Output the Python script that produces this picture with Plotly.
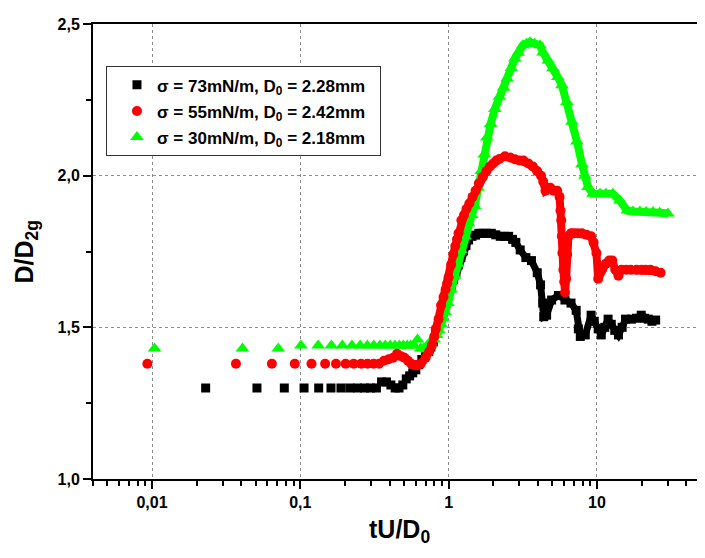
import plotly.graph_objects as go

# ---------------- data ----------------
# sigma = 73 mN/m (black squares)
black_early_x = [0.023, 0.051, 0.078, 0.106, 0.133, 0.161, 0.188, 0.216, 0.243, 0.271, 0.298, 0.326,
                 0.353, 0.381, 0.408, 0.436, 0.463, 0.491, 0.518, 0.546, 0.573]
black_early_y = [1.30, 1.30, 1.30, 1.30, 1.30, 1.30, 1.30, 1.30, 1.30, 1.30, 1.30, 1.30,
                 1.32, 1.32, 1.31, 1.30, 1.30, 1.31, 1.33, 1.34, 1.35]
black_x = [0.601, 0.63, 0.66, 0.70, 0.733, 0.76, 0.79, 0.82, 0.857, 0.89, 0.923, 0.96, 1.0, 1.04, 1.08,
           1.12, 1.167, 1.21, 1.26, 1.31, 1.364, 1.44, 1.52, 1.6, 1.7, 1.8, 1.94, 2.08, 2.23, 2.38, 2.54,
           2.7, 2.84, 3.04, 3.32, 3.62, 3.96, 4.17, 4.31, 4.38, 4.58, 4.95, 5.5, 6.09, 6.69, 7.25, 7.5,
           7.73, 8.35, 9.14, 9.6, 10.2, 10.7, 11.3, 11.9, 12.5, 13.2, 13.97, 14.8, 15.6, 17.1, 18.5,
           19.9, 21.0, 22.2, 23.5, 24.9]
black_y = [1.36, 1.377, 1.394, 1.41, 1.42, 1.435, 1.452, 1.48, 1.508, 1.53, 1.55, 1.578, 1.605, 1.63, 1.657,
           1.68, 1.706, 1.73, 1.752, 1.77, 1.788, 1.80, 1.804, 1.81, 1.81, 1.81, 1.81, 1.805, 1.80, 1.80, 1.80,
           1.79, 1.78, 1.755, 1.73, 1.72, 1.68, 1.64, 1.58, 1.535, 1.54, 1.59, 1.605, 1.59, 1.58, 1.556, 1.495,
           1.47, 1.475, 1.54, 1.52, 1.495, 1.475, 1.50, 1.527, 1.51, 1.49, 1.475, 1.50, 1.527, 1.527, 1.53,
           1.54, 1.53, 1.527, 1.52, 1.524]

# sigma = 55 mN/m (red circles)
red_early_x = [0.0093, 0.0368, 0.0643, 0.0918, 0.119, 0.147, 0.174, 0.202, 0.229, 0.257, 0.284, 0.312,
               0.339, 0.367, 0.394, 0.422, 0.449, 0.477, 0.504, 0.532, 0.559, 0.587]
red_early_y = [1.38, 1.38, 1.38, 1.38, 1.38, 1.38, 1.38, 1.38, 1.38, 1.38, 1.38, 1.38,
               1.38, 1.39, 1.395, 1.40, 1.413, 1.405, 1.40, 1.39, 1.38, 1.375]
red_x = [0.614, 0.65, 0.70, 0.74, 0.77, 0.80, 0.82, 0.857, 0.89, 0.925, 0.955, 0.98, 1.0, 1.04, 1.075,
         1.11, 1.14, 1.167, 1.22, 1.27, 1.32, 1.38, 1.45, 1.52, 1.6, 1.7, 1.8, 1.9, 2.0, 2.1, 2.2, 2.4,
         2.6, 2.8, 3.0, 3.2, 3.45, 3.7, 3.95, 4.2, 4.35, 4.5, 4.85, 5.1, 5.4, 5.6, 5.68, 5.75, 5.8, 5.85,
         5.94, 6.02, 6.1, 6.2, 6.3, 6.43, 6.69, 7.0, 7.4, 7.92, 8.5, 9.14, 9.5, 9.93, 10.2, 10.8, 11.5,
         12.1, 12.7, 13.3, 13.97, 14.7, 15.8, 16.9, 18.5, 20.0, 21.3, 23.0, 24.9, 26.9]
red_y = [1.375, 1.38, 1.40, 1.42, 1.44, 1.47, 1.495, 1.527, 1.573, 1.60, 1.625, 1.645, 1.664, 1.706, 1.74,
         1.768, 1.79, 1.81, 1.853, 1.87, 1.89, 1.908, 1.93, 1.95, 1.975, 1.996, 2.015, 2.03, 2.04, 2.05,
         2.055, 2.064, 2.06, 2.054, 2.05, 2.05, 2.04, 2.03, 2.015, 2.0, 1.98, 1.95, 1.96, 1.95, 1.95,
         1.93, 1.885, 1.853, 1.80, 1.745, 1.69, 1.65, 1.615, 1.66, 1.74, 1.80, 1.81, 1.81, 1.81, 1.81,
         1.805, 1.80, 1.78, 1.745, 1.66, 1.69, 1.71, 1.72, 1.72, 1.69, 1.67, 1.69, 1.69, 1.69, 1.69,
         1.69, 1.69, 1.69, 1.685, 1.68]

# sigma = 30 mN/m (green triangles)
green_early_x = [0.0104, 0.0407, 0.071, 0.101, 0.132, 0.162, 0.192, 0.223, 0.253, 0.283, 0.313,
                 0.344, 0.374, 0.404, 0.435, 0.465, 0.495, 0.526, 0.556, 0.586, 0.617]
green_early_y = [1.43, 1.43, 1.43, 1.44, 1.44, 1.44, 1.44, 1.44, 1.44, 1.44, 1.44,
                 1.44, 1.44, 1.44, 1.44, 1.44, 1.44, 1.44, 1.44, 1.44, 1.46]
green_x = [0.647, 0.68, 0.72, 0.76, 0.80, 0.83, 0.86, 0.89, 0.92, 0.95, 0.99, 1.04, 1.1, 1.15, 1.21,
           1.29, 1.36, 1.43, 1.5, 1.58, 1.66, 1.74, 1.81, 1.92, 2.05, 2.2, 2.35, 2.48, 2.65, 2.8, 2.95,
           3.17, 3.35, 3.54, 3.8, 4.13, 4.33, 4.7, 5.05, 5.45, 5.81, 6.28, 6.79, 7.34, 7.93, 8.3, 8.7,
           9.41, 10.5, 11.5, 12.8, 14.3, 16.0, 17.5, 19.5, 21.5, 23.9, 26.5, 30.1]
green_y = [1.43, 1.43, 1.44, 1.45, 1.46, 1.475, 1.49, 1.51, 1.53, 1.55, 1.58, 1.625, 1.67, 1.71, 1.755,
           1.80, 1.843, 1.87, 1.90, 1.96, 2.015, 2.07, 2.126, 2.17, 2.22, 2.26, 2.29, 2.32, 2.355, 2.386,
           2.405, 2.43, 2.435, 2.44, 2.435, 2.43, 2.406, 2.38, 2.354, 2.325, 2.298, 2.243, 2.178, 2.113,
           2.038, 2.0, 1.963, 1.94, 1.94, 1.94, 1.94, 1.918, 1.885, 1.882, 1.882, 1.88, 1.88, 1.878, 1.875]

labels = ["σ = 73mN/m, D<sub>0</sub> = 2.28mm\u00a0\u00a0",
          "σ = 55mN/m, D<sub>0</sub> = 2.42mm\u00a0\u00a0",
          "σ = 30mN/m, D<sub>0</sub> = 2.18mm\u00a0\u00a0"]

x_tickvals = [0.01, 0.1, 1, 10]
x_ticktext = ["0,01", "0,1", "1", "10"]
y_tickvals = [1.0, 1.5, 2.0, 2.5]
y_ticktext = ["1,0", "1,5", "2,0", "2,5"]

# ---------------- figure ----------------
fig = go.Figure()

series = [
    ("b", black_early_x, black_early_y, black_x, black_y, "#000000", "square", 9, 7, labels[0], 1),
    ("g", green_early_x, green_early_y, green_x, green_y, "#00FF00", "triangle-up", 12, 8, labels[2], 3),
    ("r", red_early_x, red_early_y, red_x, red_y, "#FF0000", "circle", 10, 8, labels[1], 2),
]
for grp, ex, ey, dx, dy, col, sym, msize, lw, name, rank in series:
    fig.add_trace(go.Scatter(x=ex, y=ey, mode="markers", name=name, legendgroup=grp,
                             legendrank=rank,
                             marker=dict(color=col, symbol=sym, size=msize, line=dict(width=0))))
    fig.add_trace(go.Scatter(x=dx, y=dy, mode="lines+markers", name=name, legendgroup=grp,
                             showlegend=False, legendrank=rank,
                             line=dict(color=col, width=lw),
                             marker=dict(color=col, symbol=sym, size=msize, line=dict(width=0))))

font_family = "Arial, 'Liberation Sans', sans-serif"

fig.update_xaxes(type="log", range=[-2.398, 1.729],
                 tickvals=x_tickvals, ticktext=x_ticktext,
                 ticks="outside", ticklen=8, tickwidth=2, tickcolor="black",
                 showline=True, linewidth=2, linecolor="black", mirror=True,
                 showgrid=True, gridcolor="#8c8c8c", gridwidth=1, griddash="dot",
                 zeroline=False,
                 tickfont=dict(size=16, family=font_family, weight="bold", color="black"),
                 minor=dict(ticks="outside", ticklen=5, tickwidth=2, tickcolor="black",
                            dtick="D1", showgrid=False))
fig.update_yaxes(range=[1.0, 2.5],
                 tickvals=y_tickvals, ticktext=y_ticktext,
                 ticks="outside", ticklen=8, tickwidth=2, tickcolor="black",
                 showline=True, linewidth=2, linecolor="black", mirror=False,
                 showgrid=True, gridcolor="#8c8c8c", gridwidth=1, griddash="dot",
                 zeroline=False,
                 tickfont=dict(size=16, family=font_family, weight="bold", color="black"),
                 minor=dict(ticks="outside", ticklen=5, tickwidth=2, tickcolor="black",
                            tick0=1.0, dtick=0.25, showgrid=False))

fig.add_annotation(text="D/D<sub>2g</sub>", xref="paper", yref="paper", x=-0.111, y=0.5,
                   textangle=-90, showarrow=False, xanchor="center", yanchor="middle",
                   font=dict(size=25, family=font_family, weight="bold", color="black"))
fig.add_annotation(text="tU/D<sub>0</sub>", xref="paper", yref="paper", x=0.5, y=-0.115,
                   showarrow=False, xanchor="center", yanchor="middle",
                   font=dict(size=25, family=font_family, weight="bold", color="black"))

# the page adds an 8 px body margin, so the plot frame is shifted back by 8 px
fig.update_layout(
    width=705, height=558,
    margin=dict(l=85, r=8, t=10, b=87),
    paper_bgcolor="white", plot_bgcolor="white",
    font=dict(family=font_family, color="black"),
    legend=dict(x=0.0212, y=0.907, xanchor="left", yanchor="top",
                bordercolor="#333333", borderwidth=1, bgcolor="white",
                font=dict(size=17, family=font_family, weight="bold", color="black"),
                tracegroupgap=1, itemwidth=30, indentation=10),
)

fig.write_html("out.html")
